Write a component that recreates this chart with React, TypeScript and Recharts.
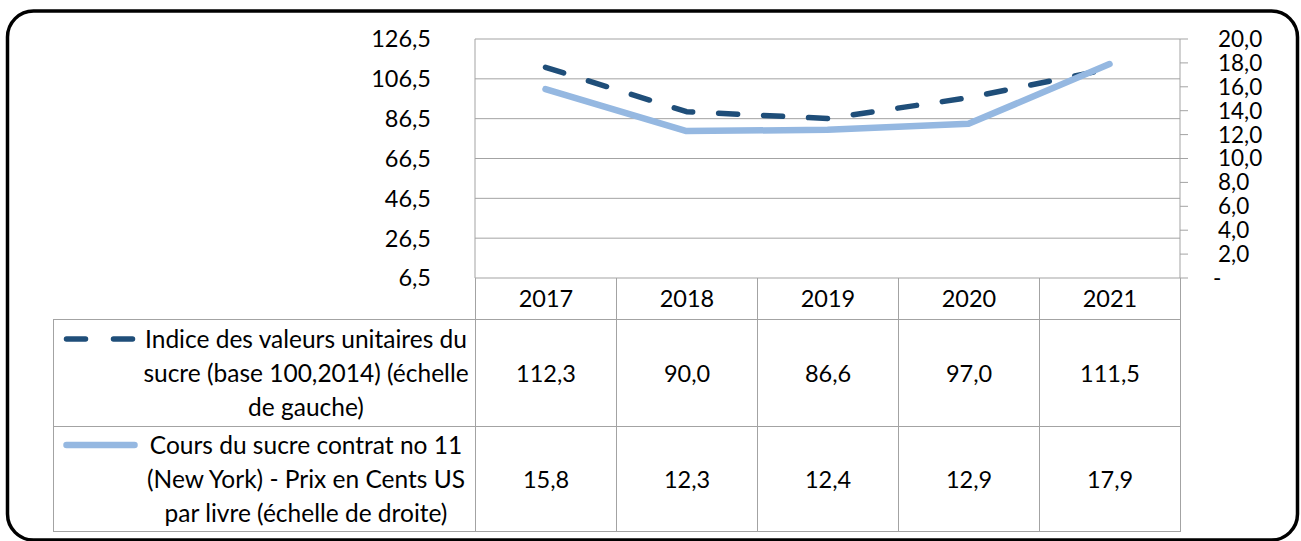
import React from 'react';
import { LineChart, Line, XAxis, YAxis, CartesianGrid } from 'recharts';

const years = ['2017', '2018', '2019', '2020', '2021'];
const indexValues = [112.3, 90.0, 86.6, 97.0, 111.5];
const sugarPrices = [15.8, 12.3, 12.4, 12.9, 17.9];
const leftTicks = [6.5, 26.5, 46.5, 66.5, 86.5, 106.5, 126.5];
const rightTicks = [0, 2, 4, 6, 8, 10, 12, 14, 16, 18, 20];
const seriesNames = [
  'Indice des valeurs unitaires du\nsucre (base 100,2014) (échelle\nde gauche)',
  'Cours du sucre contrat no 11\n(New York) - Prix en Cents US\npar livre (échelle de droite)',
];

const DARK = '#1F4E79';
const LIGHT = '#95B8E1';
const GRID = '#A3A3A3';
const FONT = 'Lato, "Open Sans", sans-serif';
const FS = 23.5;
const FS_RIGHT = 22.5;
const FS_LABEL = 24.5;
const DASH = '19 26';

const fmt = (v: number) => v.toFixed(1).replace('.', ',');

const data = years.map((y, i) => ({ year: y, idx: indexValues[i], price: sugarPrices[i] }));

const RightTick = (props: any) => {
  const { x, y, payload } = props;
  const v = payload.value;
  return (
    <text x={v === 0 ? x - 5 : x} y={y} dy="0.355em" textAnchor="start" fontSize={FS_RIGHT} fontFamily={FONT} fill="#000">
      {v === 0 ? '-' : fmt(v)}
    </text>
  );
};

const LegendKey = ({ dashed }: { dashed: boolean }) => (
  <svg width={84} height={34} style={{ display: 'block', flex: 'none' }}>
    <line
      x1={9.5}
      x2={77.5}
      y1={17}
      y2={17}
      stroke={dashed ? DARK : LIGHT}
      strokeWidth={dashed ? 5.5 : 6.5}
      strokeLinecap="round"
      strokeDasharray={dashed ? '19 28' : undefined}
    />
  </svg>
);

export default function App() {
  const border = `1px solid ${GRID}`;
  const rows = [
    { name: seriesNames[0], values: indexValues, dashed: true, h: 107 },
    { name: seriesNames[1], values: sugarPrices, dashed: false, h: 105 },
  ];
  return (
    <div style={{ position: 'absolute', left: 0, top: 0, width: 1301, height: 541, background: '#fff', fontFamily: FONT, overflow: 'hidden' }}>
      <LineChart
        width={1301}
        height={541}
        data={data}
        margin={{ top: 39, right: 41, bottom: 263, left: 395 }}
        style={{ position: 'absolute', left: 0, top: 0 }}
      >
        <CartesianGrid yAxisId="left" vertical={false} stroke={GRID} strokeWidth={1} />
        <XAxis dataKey="year" hide padding={{ left: 70.5, right: 70.5 }} />
        <YAxis
          yAxisId="left"
          domain={[6.5, 126.5]}
          ticks={leftTicks}
          interval={0}
          tickFormatter={fmt}
          tickLine={false}
          axisLine={{ stroke: GRID }}
          tickMargin={38}
          width={80}
          tick={{ fill: '#000', fontSize: FS, fontFamily: FONT }}
        />
        <YAxis
          yAxisId="right"
          orientation="right"
          domain={[0, 20]}
          ticks={rightTicks}
          interval={0}
          tickSize={8}
          tickLine={{ stroke: GRID }}
          axisLine={{ stroke: GRID }}
          tickMargin={30}
          width={80}
          tick={<RightTick />}
        />
        <Line
          yAxisId="left"
          dataKey="idx"
          stroke={DARK}
          strokeWidth={5.5}
          strokeDasharray={DASH}
          strokeLinecap="round"
          strokeLinejoin="round"
          dot={false}
          activeDot={false}
          isAnimationActive={false}
        />
        <Line
          yAxisId="right"
          dataKey="price"
          stroke={LIGHT}
          strokeWidth={6.5}
          strokeLinecap="round"
          strokeLinejoin="round"
          dot={false}
          activeDot={false}
          isAnimationActive={false}
        />
      </LineChart>

      <table
        style={{
          position: 'absolute',
          left: 53,
          top: 278,
          borderCollapse: 'collapse',
          tableLayout: 'fixed',
          width: 1127,
          fontSize: FS,
          color: '#000',
          fontFamily: FONT,
        }}
      >
        <colgroup>
          <col style={{ width: 422 }} />
          {years.map((y) => (
            <col key={y} style={{ width: 141 }} />
          ))}
        </colgroup>
        <tbody>
          <tr style={{ height: 41 }}>
            <td style={{ padding: 0, borderBottom: border }} />
            {years.map((y) => (
              <td key={y} style={{ padding: 0, textAlign: 'center', borderLeft: border, borderRight: border, borderBottom: border }}>
                {y}
              </td>
            ))}
          </tr>
          {rows.map((r, ri) => (
            <tr key={ri} style={{ height: r.h }}>
              <td style={{ padding: 0, border }}>
                <div style={{ display: 'flex', alignItems: 'flex-start', paddingLeft: 3 }}>
                  <LegendKey dashed={r.dashed} />
                  <div
                    style={{
                      flex: 1,
                      minWidth: 0,
                      whiteSpace: 'pre',
                      textAlign: 'center',
                      lineHeight: '34px',
                      paddingRight: 4,
                      fontSize: FS_LABEL,
                    }}
                  >
                    {r.name}
                  </div>
                </div>
              </td>
              {r.values.map((v, i) => (
                <td key={i} style={{ padding: 0, border, textAlign: 'center' }}>
                  {fmt(v)}
                </td>
              ))}
            </tr>
          ))}
        </tbody>
      </table>

      <svg width={1301} height={541} style={{ position: 'absolute', left: 0, top: 0, pointerEvents: 'none' }}>
        <rect x={7.5} y={11} width={1290} height={529} rx={26} ry={26} fill="none" stroke="#000" strokeWidth={3.5} />
      </svg>
    </div>
  );
}
